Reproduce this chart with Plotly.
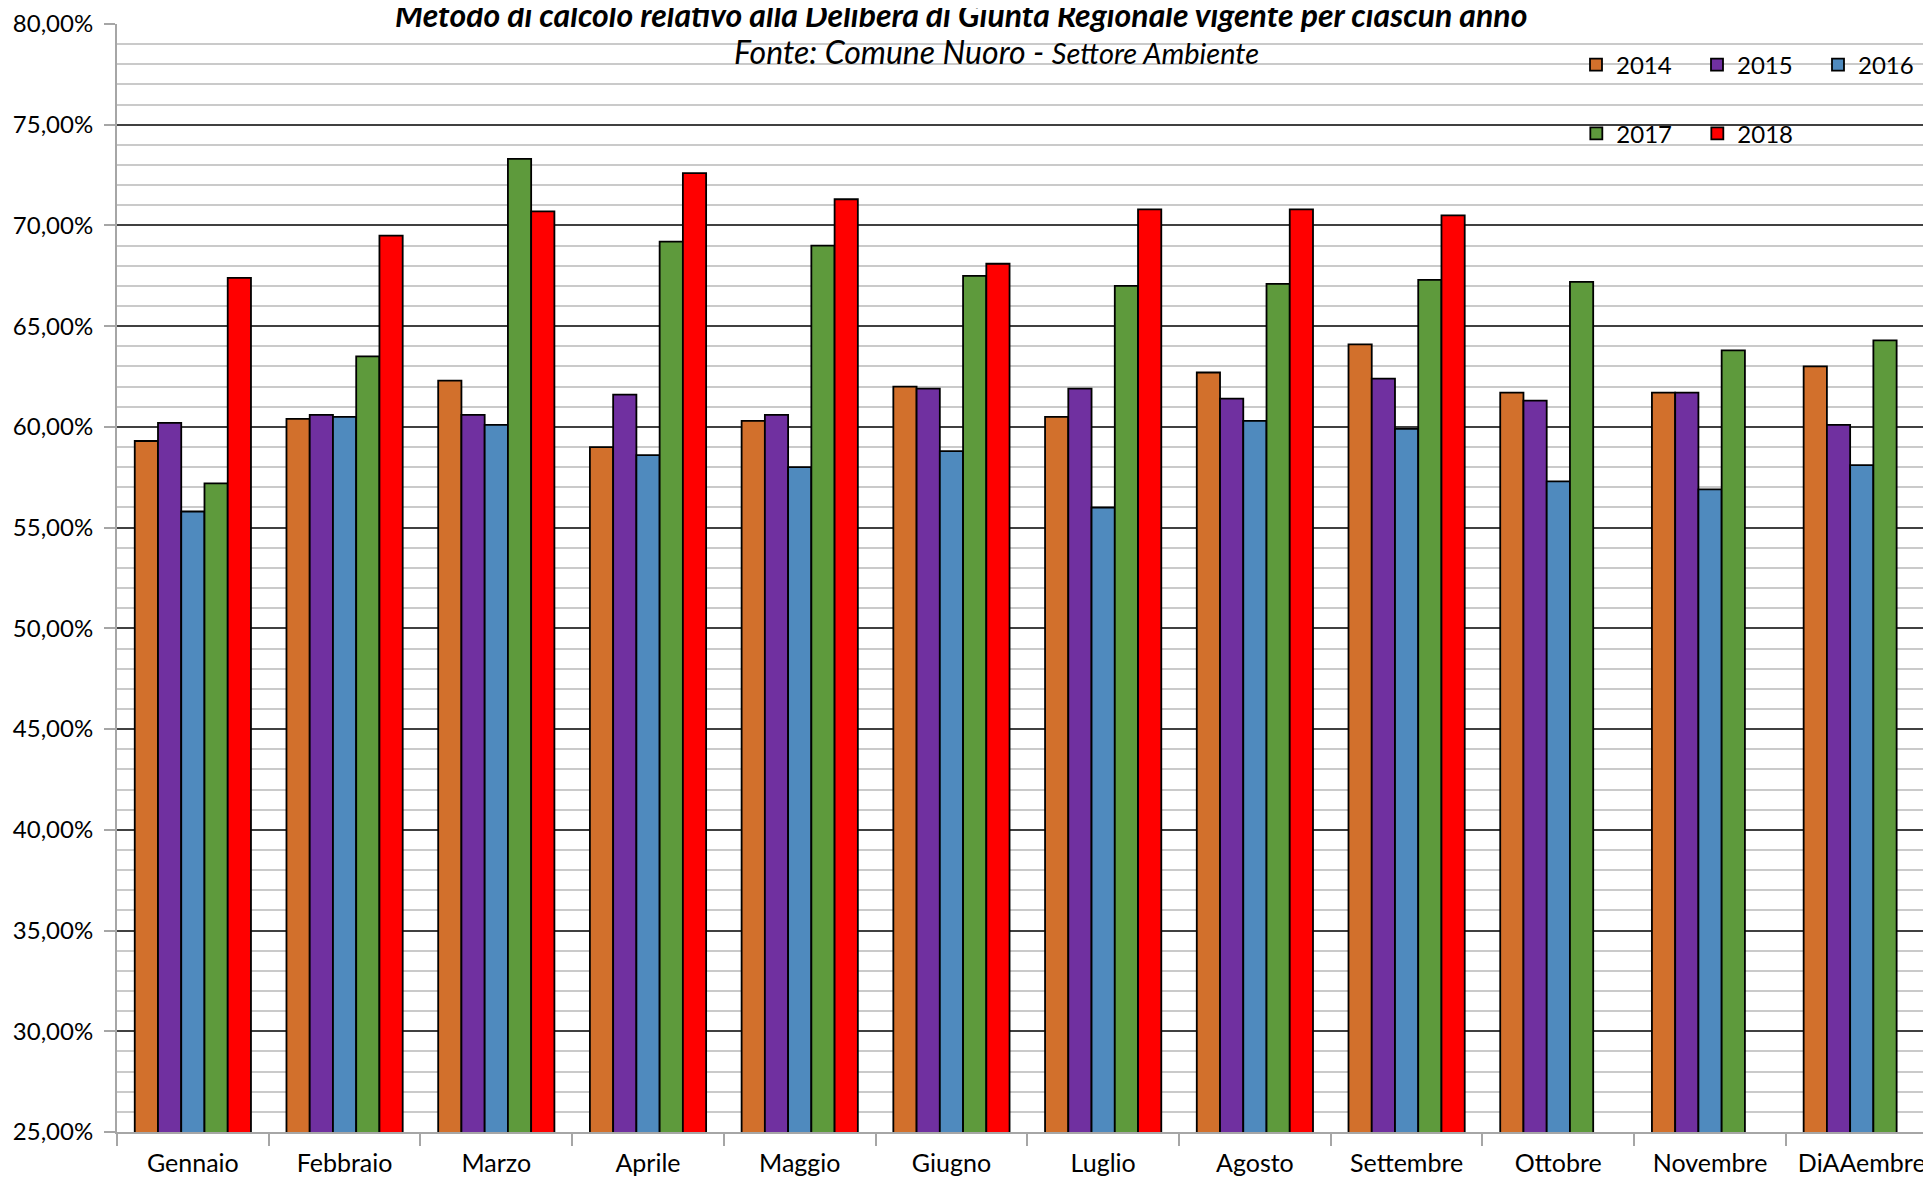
import plotly.graph_objects as go

months = ["Gennaio", "Febbraio", "Marzo", "Aprile", "Maggio", "Giugno",
          "Luglio", "Agosto", "Settembre", "Ottobre", "Novembre", "DiAAembre"]

v2014 = [59.3, 60.4, 62.3, 59.0, 60.3, 62.0, 60.5, 62.7, 64.1, 61.7, 61.7, 63.0]
v2015 = [60.2, 60.6, 60.6, 61.6, 60.6, 61.9, 61.9, 61.4, 62.4, 61.3, 61.7, 60.1]
v2016 = [55.8, 60.5, 60.1, 58.6, 58.0, 58.8, 56.0, 60.3, 59.9, 57.3, 56.9, 58.1]
v2017 = [57.2, 63.5, 73.3, 69.2, 69.0, 67.5, 67.0, 67.1, 67.3, 67.2, 63.8, 64.3]
v2018 = [67.4, 69.5, 70.7, 72.6, 71.3, 68.1, 70.8, 70.8, 70.5, 0, 0, 0]

series = [
    ("2014", v2014, "#D2702C", "legend"),
    ("2015", v2015, "#7030A0", "legend"),
    ("2016", v2016, "#4F8ABE", "legend"),
    ("2017", v2017, "#5E9A3C", "legend2"),
    ("2018", v2018, "#FF0000", "legend2"),
]

fig = go.Figure()
for name, vals, col, lg in series:
    fig.add_trace(go.Bar(
        x=months, y=vals, name=name, legend=lg,
        marker=dict(color=col, line=dict(color="black", width=1.8)),
    ))

# page has an 8px body margin; figure coords = page coords - 8
OFF = 8
W, H = 1931, 1181
ml, mr, mt = 117 - OFF, 0, 22 - OFF
mb = H - (1132 - OFF)
pw = W - ml - mr
ph = H - mt - mb


def py(page_y):
    return 1 - (page_y - OFF - mt) / ph


def px(page_x):
    return (page_x - OFF - ml) / pw


fig.update_layout(
    width=W, height=H,
    margin=dict(l=ml, r=mr, t=mt, b=mb),
    paper_bgcolor="white", plot_bgcolor="white",
    barmode="group", bargap=0.234, bargroupgap=0,
    separators=",.",
    font=dict(family="Lato", size=24, color="black"),
    legend=dict(orientation="h", x=px(1598 - 12), y=py(63),
                xanchor="left", yanchor="middle",
                bgcolor="rgba(0,0,0,0)", entrywidth=76, entrywidthmode="pixels",
                font=dict(size=24), traceorder="normal"),
    legend2=dict(orientation="h", x=px(1598 - 12), y=py(132),
                 xanchor="left", yanchor="middle",
                 bgcolor="rgba(0,0,0,0)", entrywidth=76, entrywidthmode="pixels",
                 font=dict(size=24), traceorder="normal"),
    showlegend=True,
)

fig.update_yaxes(
    range=[25, 80], dtick=5, tick0=25,
    tickformat=".2f", ticksuffix="%",
    showgrid=True, gridcolor="#404040", gridwidth=1.6,
    minor=dict(dtick=1, showgrid=True, gridcolor="#cacaca", gridwidth=1.8,
               ticks=""),
    showline=True, linecolor="#a6a6a6", linewidth=2,
    ticks="outside", ticklen=11, tickcolor="#a6a6a6", tickwidth=2,
    ticklabelstandoff=6, ticklabeloverflow="allow",
    zeroline=False, tickfont=dict(size=24),
)

fig.update_xaxes(
    range=[-0.5, 11.43],
    tickson="boundaries", ticks="outside", ticklen=12,
    tickcolor="#a6a6a6", tickwidth=2,
    showline=True, linecolor="#a6a6a6", linewidth=2,
    ticklabelstandoff=8, ticklabeloverflow="allow",
    showgrid=False, tickfont=dict(size=25),
)

fig.add_annotation(
    text="<b><i>Metodo di calcolo relativo alla Delibera di Giunta Regionale vigente per ciascun anno</i></b>",
    xref="paper", yref="paper",
    x=px(967), y=py(12),
    xanchor="center", yanchor="middle", showarrow=False,
    font=dict(size=32, color="black"),
)
fig.add_annotation(
    text="<i>Fonte: Comune Nuoro - <span style='font-size:29px'>Settore Ambiente</span></i>",
    xref="paper", yref="paper",
    x=px(1002), y=py(50),
    xanchor="center", yanchor="middle", showarrow=False,
    font=dict(size=32, color="black"),
)

fig.write_html("out.html")
